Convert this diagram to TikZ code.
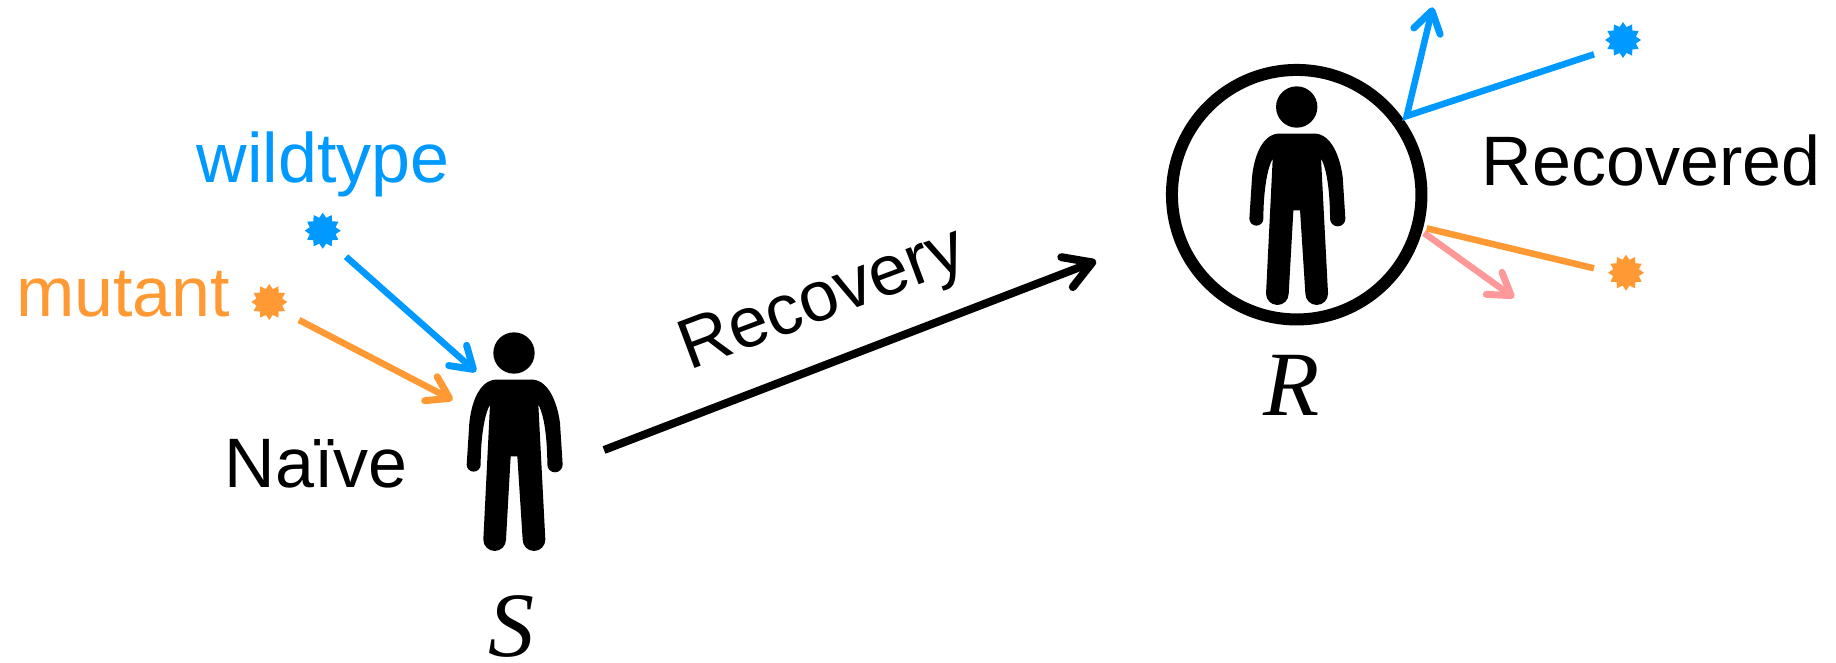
\documentclass[tikz,border=0pt]{standalone}
\usepackage{fontspec}
\setmainfont{Liberation Sans}
\newfontfamily\mathlike{Liberation Serif}
\usetikzlibrary{arrows.meta,shapes.geometric,shapes.misc}
\definecolor{wtblue}{HTML}{0099FF}
\definecolor{mutorange}{HTML}{FF9933}
\definecolor{softpink}{HTML}{FF9999}
\tikzset{
  x=1pt,y=-1pt,
  barb/.style={-{Straight Barb[length=21pt,width=27pt,round,line width=7pt]},line width=6.5pt},
  bigbarb/.style={-{Straight Barb[length=27pt,width=32pt,round,line width=8pt]},line width=8pt},
  bluearrow/.style={barb,draw=wtblue},
  orangearrow/.style={barb,draw=mutorange},
  pinkarrow/.style={barb,draw=softpink},
  virus/.style={star,star points=12,star point ratio=1.35,minimum size=36pt,inner sep=0pt,outer sep=0pt,fill=#1,draw=none},
  lab/.style={font=\fontsize{70}{70}\selectfont,inner sep=0pt},
  symb/.style={font=\fontsize{92}{92}\selectfont\mathlike\itshape,inner sep=0pt},
  person/.pic={
    \fill[black,x=0.3333pt,y=-0.3333pt]
      (0,0) circle[radius=62]
      (0,80) -- (-57,80)
      .. controls (-105,85) and (-128,150) .. (-134,210)
      -- (-142,335)
      arc[start angle=180,end angle=0,x radius=21,y radius=21]
      .. controls (-100,270) and (-92,190) .. (-72,155)
      -- (-92,560)
      arc[start angle=180,end angle=0,x radius=34,y radius=34]
      -- (-10,310) -- (10,310) -- (26,560)
      arc[start angle=180,end angle=0,x radius=34,y radius=34]
      -- (73,155)
      .. controls (93,190) and (100,270) .. (100,335)
      arc[start angle=180,end angle=0,x radius=23,y radius=23]
      -- (138,210)
      .. controls (130,150) and (105,85) .. (58,80) -- cycle;
  }
}
\begin{document}
\begin{tikzpicture}
\useasboundingbox (0,0) rectangle (1836,663);
% people
\pic (naive) at (514,353) {person};
\pic (rec) at (1296.7,107) {person};
\node[circle,draw=black,line width=12pt,minimum size=249.5pt,inner sep=0pt,outer sep=0pt] (ring) at (1296.7,194.7) {};
% viruses
\node[virus=wtblue] (vw) at (322.7,230.7) {};
\node[virus=mutorange] (vm) at (269.3,302) {};
\node[virus=wtblue] (vrw) at (1623,40) {};
\node[virus=mutorange] (vrm) at (1626,272.7) {};
% connector ends
\coordinate (a1) at (346,256.7);
\coordinate (a2) at (476,371.7);
\coordinate (b1) at (299,320);
\coordinate (b2) at (452.7,400);
\coordinate (c1) at (1594,54.3);
\coordinate (c2) at (1406.7,116);
\coordinate (c3) at (1432.7,7.3);
\coordinate (d1) at (1594,268.3);
\coordinate (d2) at (1426.7,228.3);
\coordinate (e1) at (1424,233);
\coordinate (e2) at (1514,297.7);
\coordinate (f1) at (604,450);
\coordinate (f2) at (1096,261);
\draw[bluearrow] (a1) -- (a2);
\draw[orangearrow] (b1) -- (b2);
\draw[bluearrow,line join=miter] (c1) -- (c2) -- (c3);
\draw[pinkarrow] (e1) -- (e2);
\draw[draw=mutorange,line width=6.5pt] (d1) -- (d2);
\draw[bigbarb,draw=black] (f1) -- (f2);
% labels
\node[lab,text=wtblue,anchor=base] (lw) at (323,183) {wildtype};
\node[lab,text=mutorange,anchor=base] (lm) at (123,316) {mutant};
\node[lab,anchor=base] (ln) at (316,487) {Naïve};
\node[lab,anchor=base] (lr) at (1651,186) {Recovered};
\node[lab,anchor=base west,rotate=20.5,font=\fontsize{71}{71}\selectfont] (lrec) at (689,371) {Recovery};
\node[symb,anchor=base] (ls) at (511,656) {S};
\node[symb,anchor=base] (lR) at (1292,415) {R};
\end{tikzpicture}
\end{document}
